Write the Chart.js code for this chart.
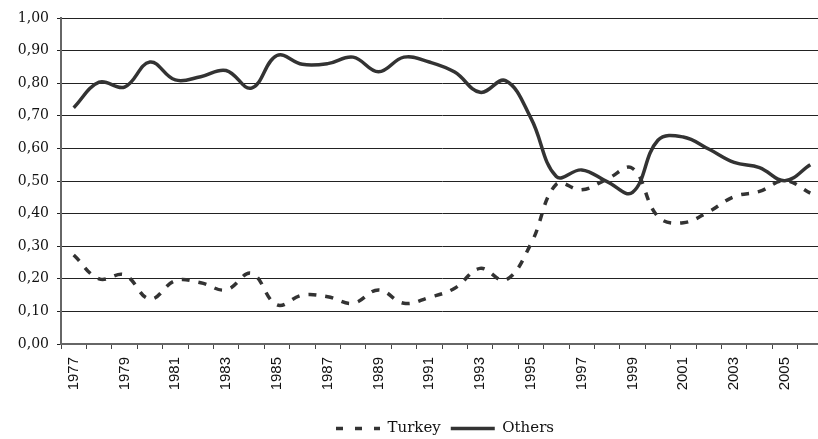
<!DOCTYPE html>
<html><head><meta charset="utf-8">
<script src="https://cdn.jsdelivr.net/npm/chart.js@4"></script>
<style>html,body{margin:0;padding:0;background:#fff;overflow:hidden;} #wrap{width:818px;height:439px;overflow:hidden;}</style>
</head><body><div id="wrap"><canvas id="c" width="890" height="446"></canvas></div>
<script>
const years = ['1977','1978','1979','1980','1981','1982','1983','1984','1985','1986','1987','1988','1989','1990','1991','1992','1993','1994','1995','1996','1997','1998','1999','2000','2001','2002','2003','2004','2005','2006'];
const turkey = [0.273,0.200,0.212,0.138,0.194,0.188,0.166,0.217,0.120,0.150,0.145,0.125,0.166,0.125,0.143,0.171,0.232,0.196,0.307,0.490,0.473,0.506,0.539,0.391,0.372,0.406,0.452,0.468,0.501,0.463];
const others = [0.725,0.803,0.788,0.865,0.810,0.820,0.839,0.785,0.885,0.858,0.860,0.880,0.835,0.880,0.865,0.834,0.772,0.808,0.693,0.514,0.534,0.498,0.465,0.625,0.635,0.598,0.557,0.541,0.501,0.550];
const yTickLabels = ['0,00','0,10','0,20','0,30','0,40','0,50','0,60','0,70','0,80','0,90','1,00'];
const seriesNames = ['Turkey','Others'];
const legendDash = [[7, 12], []];

new Chart(document.getElementById('c'), {
  type: 'line',
  data: {
    labels: years,
    datasets: [
      {label: seriesNames[0], data: turkey, borderColor: '#333', backgroundColor: '#333', borderWidth: 3.5, borderDash: [8, 9], pointRadius: 0, tension: 0.4, fill: false},
      {label: seriesNames[1], data: others, borderColor: '#333', backgroundColor: '#333', borderWidth: 3.5, pointRadius: 0, tension: 0.4, fill: false}
    ]
  },
  options: {
    responsive: false, animation: false,
    layout: {padding: {top: 18, right: 0, left: 0, bottom: 0}},
    plugins: {
      legend: {position: 'bottom', labels: {
        usePointStyle: true, pointStyle: 'line', pointStyleWidth: 44,
        font: {family: 'DejaVu Serif', size: 15}, color: '#111', padding: 10,
        generateLabels: chart => Chart.defaults.plugins.legend.labels.generateLabels(chart).map(it => {
          it.lineDash = legendDash[it.datasetIndex]; it.lineWidth = 3.5; it.strokeStyle = '#333'; return it;
        })
      }},
      tooltip: {enabled: false}
    },
    scales: {
      x: {
        offset: true,
        grid: {display: true, drawOnChartArea: false, offset: true, tickLength: 5, color: '#444'},
        border: {color: '#666', width: 2},
        ticks: {autoSkip: false, minRotation: 90, maxRotation: 90, padding: 8, font: {family: 'Liberation Sans', size: 15}, color: '#111',
          callback: (v, i) => (i % 2 === 0 ? years[i] : '')},
        afterFit: s => { s.height = 67; s.paddingLeft = 0; s.paddingRight = 67; }
      },
      y: {
        min: 0, max: 1,
        ticks: {stepSize: 0.1, callback: (v, i) => yTickLabels[i], font: {family: 'DejaVu Serif', size: 14}, color: '#111', padding: 8},
        grid: {color: '#222', tickLength: 4},
        border: {color: '#666', width: 2},
        afterFit: s => { s.width = 61; s.paddingTop = 0; s.paddingBottom = 0; }
      }
    }
  }
});
</script>
</body></html>
